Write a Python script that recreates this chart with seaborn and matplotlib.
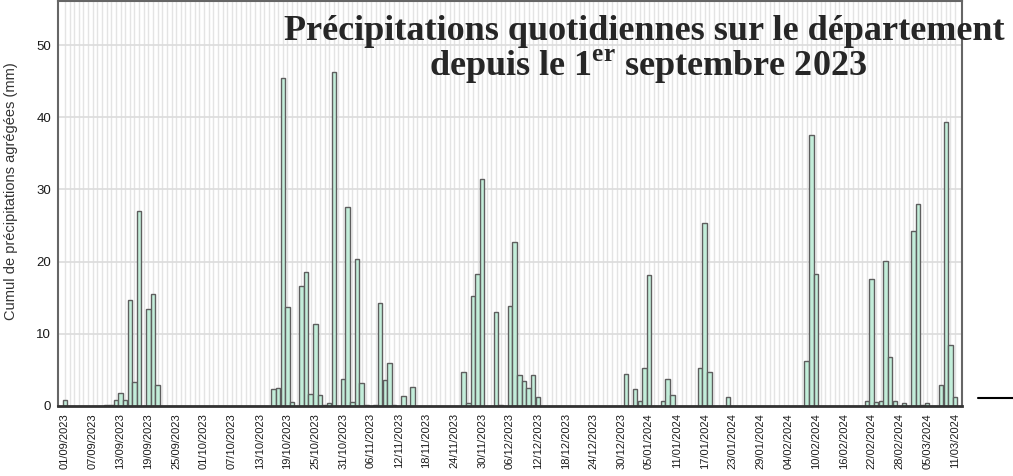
import pandas as pd
import matplotlib.pyplot as plt
import seaborn as sns
from matplotlib.lines import Line2D

# daily rainfall (mm) - only rainy days, all other days are 0
rain_days = ["01/09/2023", "10/09/2023", "11/09/2023", "12/09/2023", "13/09/2023", "14/09/2023",
             "15/09/2023", "16/09/2023", "17/09/2023", "19/09/2023", "20/09/2023", "21/09/2023",
             "16/10/2023", "17/10/2023", "18/10/2023", "19/10/2023", "20/10/2023", "22/10/2023",
             "23/10/2023", "24/10/2023", "25/10/2023", "26/10/2023", "27/10/2023", "28/10/2023",
             "29/10/2023", "31/10/2023", "01/11/2023", "02/11/2023", "03/11/2023", "04/11/2023",
             "05/11/2023", "07/11/2023", "08/11/2023", "09/11/2023", "10/11/2023", "11/11/2023",
             "13/11/2023", "15/11/2023", "26/11/2023", "27/11/2023", "28/11/2023", "29/11/2023",
             "30/11/2023", "03/12/2023", "04/12/2023", "06/12/2023", "07/12/2023", "08/12/2023",
             "09/12/2023", "10/12/2023", "11/12/2023", "12/12/2023", "31/12/2023", "02/01/2024",
             "03/01/2024", "04/01/2024", "05/01/2024", "08/01/2024", "09/01/2024", "10/01/2024",
             "16/01/2024", "17/01/2024", "18/01/2024", "22/01/2024", "08/02/2024", "09/02/2024",
             "10/02/2024", "21/02/2024", "22/02/2024", "23/02/2024", "24/02/2024", "25/02/2024",
             "26/02/2024", "27/02/2024", "29/02/2024", "02/03/2024", "03/03/2024", "04/03/2024",
             "05/03/2024", "08/03/2024", "09/03/2024", "10/03/2024", "11/03/2024"]
rain_mm = [0.9, 0.1, 0.1, 0.9, 1.8, 0.9,
           14.7, 3.3, 27.0, 13.5, 15.5, 2.9,
           2.4, 2.5, 45.5, 13.7, 0.6, 16.6,
           18.5, 1.7, 11.4, 1.5, 0.2, 0.4,
           46.3, 3.7, 27.5, 0.5, 20.4, 3.2,
           0.1, 0.1, 14.3, 3.6, 6.0, 0.1,
           1.4, 2.7, 4.7, 0.4, 15.3, 18.3,
           31.5, 13.0, 0.15, 13.9, 22.7, 4.3,
           3.5, 2.5, 4.3, 1.3, 4.5, 2.4,
           0.7, 5.2, 18.2, 0.7, 3.8, 1.5,
           5.2, 25.3, 4.7, 1.3, 6.3, 37.5,
           18.3, 0.7, 17.6, 0.55, 0.7, 20.1,
           6.8, 0.7, 0.4, 24.3, 28.0, 0.15,
           0.4, 2.9, 39.4, 8.4, 1.2]
start_date = "2023-09-01"
end_date = "2024-03-11"
y_ticks = [0, 10, 20, 30, 40, 50]

# full daily series
days = pd.date_range(start_date, end_date, freq="D")
rain = pd.Series(rain_mm, index=pd.to_datetime(rain_days, format="%d/%m/%Y"))
df = pd.DataFrame({"date": days.strftime("%d/%m/%Y"),
                   "mm": rain.reindex(days, fill_value=0).values})

sns.set_style("white")
plt.rcParams['font.family'] = ['Liberation Sans', 'DejaVu Sans']
plt.rcParams['mathtext.fontset'] = 'custom'
plt.rcParams['mathtext.rm'] = 'Liberation Serif:bold'
plt.rcParams['mathtext.bf'] = 'Liberation Serif:bold'

fig = plt.figure(figsize=(10.13, 4.76), dpi=100)
ax = fig.add_axes([58 / 1013, 70 / 476, 904 / 1013, 405 / 476])

# vertical day grid + horizontal grid
for i in range(len(df)):
    ax.axvline(i, color="#e4e4e4", lw=1.0, zorder=0)
for v in y_ticks[1:]:
    ax.axhline(v, color="#dcdcdc", lw=1.2, zorder=0.5)

sns.barplot(data=df, x="date", y="mm", color="#c2edd9", saturation=1,
            edgecolor="#5e5e5e", linewidth=1.0, width=0.97, ax=ax, zorder=2)

ax.set_xlim(-1.5, len(df) + 0.5)
ax.set_ylim(0, 56.1)
ax.set_yticks(y_ticks)
ax.set_yticklabels([str(v) for v in y_ticks], fontsize=9.5, color="#1a1a1a")
tick_pos = list(range(0, len(df), 6))
ax.set_xticks(tick_pos)
ax.set_xticklabels(df["date"].iloc[tick_pos], rotation=90, fontsize=8, color="#1a1a1a")
ax.tick_params(axis="both", length=3, width=1, color="#444444", pad=2)
ax.set_xlabel("")
ax.set_ylabel("Cumul de précipitations agrégées (mm)", fontsize=10.5, color="#333333")
ax.yaxis.set_label_coords(-0.044, 0.53)

for side in ["left", "right", "top"]:
    ax.spines[side].set_color("#666666")
    ax.spines[side].set_linewidth(1.5)
ax.spines["bottom"].set_color("#333333")
ax.spines["bottom"].set_linewidth(2)

fig.text(0.636, 0.916, "Précipitations quotidiennes sur le département",
         ha="center", va="baseline", fontsize=26, fontweight="bold",
         family="Liberation Serif")
fig.text(0.64, 0.840, r"depuis le 1$^{\mathbf{er}}$ septembre 2023",
         ha="center", va="baseline", fontsize=26, fontweight="bold",
         family="Liberation Serif")

fig.add_artist(Line2D([978 / 1013, 1.0], [1 - 398 / 476, 1 - 398 / 476],
                      transform=fig.transFigure, color="black", lw=1.5))

plt.savefig("out.png", dpi=100)
